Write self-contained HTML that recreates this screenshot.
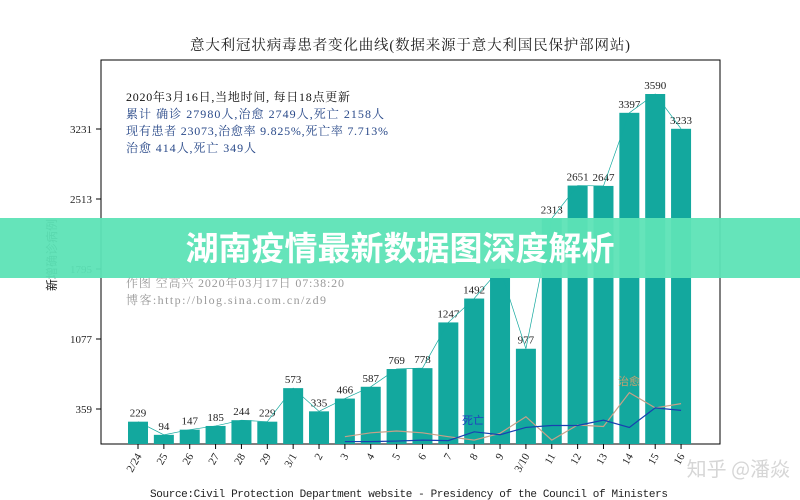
<!DOCTYPE html>
<html><head><meta charset="utf-8"><style>
body{margin:0;background:#fff;width:800px;height:500px;overflow:hidden;position:relative;font-family:"Liberation Serif","Noto Serif CJK SC",serif}
svg{position:absolute;left:0;top:0}
</style></head><body>
<svg width="800" height="500" id="c">
<text x="410" y="50" font-size="14.5" text-anchor="middle" fill="#222" textLength="440">意大利冠状病毒患者变化曲线(数据来源于意大利国民保护部网站)</text>
<rect x="101" y="60" width="619" height="384" fill="none" stroke="#000" stroke-width="1"/>
<text transform="translate(56,255) rotate(-90)" font-size="12" text-anchor="middle" fill="#222" font-family="Liberation Sans,Noto Sans CJK SC,sans-serif">新增确诊病例</text>
<g font-size="12" fill="#111">
<text x="126" y="101" textLength="224">2020年3月16日,当地时间, 每日18点更新</text>
<text x="126" y="118" fill="#2a4a8a" textLength="258">累计 确诊 27980人,治愈 2749人,死亡 2158人</text>
<text x="126" y="135" fill="#2a4a8a" textLength="262">现有患者 23073,治愈率 9.825%,死亡率 7.713%</text>
<text x="126" y="152" fill="#2a4a8a" textLength="130">治愈 414人,死亡 349人</text>
</g>
<g font-size="12" fill="#999">
<text x="126" y="287" textLength="218">作图 空高兴 2020年03月17日 07:38:20</text>
<text x="126" y="304" textLength="200">博客:http://blog.sina.com.cn/zd9</text>
</g>
<g id="bars"></g><g id="lines"></g><g id="axes"></g>
<text x="462" y="424" font-size="11" fill="#2040c0" font-family="Liberation Sans,Noto Sans CJK SC,sans-serif">死亡</text>
<text x="618" y="385" font-size="11" fill="#c8a070" font-family="Liberation Sans,Noto Sans CJK SC,sans-serif">治愈</text>
<text x="150" y="497" font-size="11" fill="#222" textLength="518" font-family="Liberation Mono,monospace">Source:Civil Protection Department website - Presidency of the Council of Ministers</text>
<rect x="0" y="218" width="800" height="60" fill="#5de3b6" opacity="0.95"/>
<text x="400" y="260" font-size="33" font-weight="bold" text-anchor="middle" fill="#fff" font-family="Noto Sans CJK SC,sans-serif">湖南疫情最新数据图深度解析</text>
<text x="790" y="476" font-size="20" text-anchor="end" fill="#ccc" opacity="0.8" font-family="Noto Sans CJK SC,sans-serif">知乎 @潘焱</text>
</svg>
<script>
const categories=["2/24","25","26","27","28","29","3/1","2","3","4","5","6","7","8","9","3/10","11","12","13","14","15","16"];
const newCases=[229,94,147,185,244,229,573,335,466,587,769,778,1247,1492,1797,977,2313,2651,2647,3397,3590,3233];
const showLabel=[1,1,1,1,1,1,1,1,1,1,1,1,1,1,0,1,1,1,1,1,1,1];
const cured=[null,null,null,null,null,null,null,null,75,115,133,115,75,40,110,280,40,195,180,527,370,414];
const deaths=[null,null,null,null,null,null,null,null,25,25,30,40,35,125,95,170,190,190,245,170,370,345];
const yTicks=[359,1077,1795,2513,3231];
const NS="http://www.w3.org/2000/svg";
const xs=i=>138+i*25.86;
const ys=v=>444-v*70/718;
function mk(t,a,p){const e=document.createElementNS(NS,t);for(const k in a)e.setAttribute(k,a[k]);document.getElementById(p).appendChild(e);return e;}
newCases.forEach((v,i)=>{
 const r=mk('rect',{x:xs(i)-10,y:ys(v),width:20,height:444-ys(v),fill:'#13a89e'},'bars');
 
 
 if(showLabel[i]){const t=mk('text',{x:xs(i),y:ys(v)-5,'font-size':11,'text-anchor':'middle',fill:'#222'},'bars');t.textContent=v;
 
 }
});
const topLine=mk('polyline',{points:newCases.map((v,i)=>xs(i)+','+ys(v)).join(' '),fill:'none',stroke:'#13a89e','stroke-width':0.7},'lines');


function series(arr,col,name){const pts=[];arr.forEach((v,i)=>{if(v!==null)pts.push(xs(i)+','+ys(v));});
 const p=mk('polyline',{points:pts.join(' '),fill:'none',stroke:col,'stroke-width':1.2},'lines');
 
 }
series(cured,'#c8a088','cured-line');
series(deaths,'#1840b0','deaths-line');
yTicks.forEach(v=>{
 mk('line',{x1:96,x2:101,y1:ys(v),y2:ys(v),stroke:'#000'},'axes');
 const t=mk('text',{x:92,y:ys(v)+4,'font-size':11,'text-anchor':'end',fill:'#222'},'axes');t.textContent=v;
 
 
});
categories.forEach((c,i)=>{
 mk('line',{x1:xs(i),x2:xs(i),y1:444,y2:449,stroke:'#000'},'axes');
 const t=mk('text',{x:0,y:0,'font-size':11,'text-anchor':'end',fill:'#222',transform:'translate('+(xs(i)+4)+',456) rotate(-60)'},'axes');t.textContent=c;
 
 
});
</script>
</body></html>
